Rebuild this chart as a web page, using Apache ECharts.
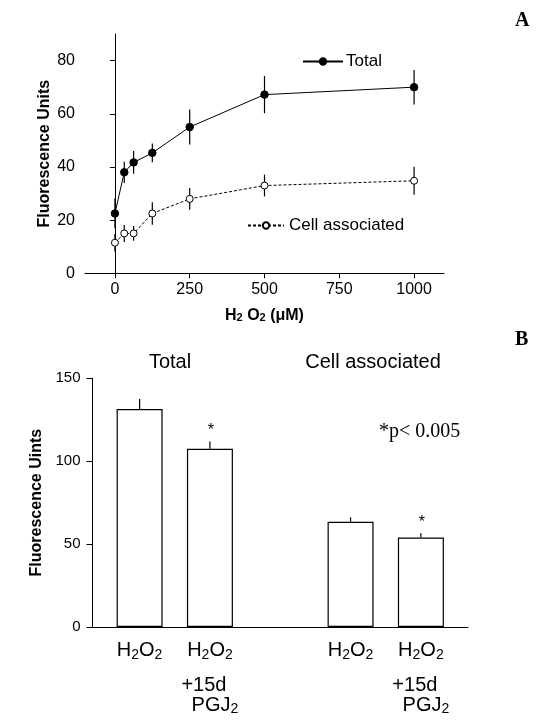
<!DOCTYPE html>
<html><head><meta charset="utf-8">
<script src="https://cdn.jsdelivr.net/npm/echarts@6/dist/echarts.min.js"></script>
<style>html,body{margin:0;padding:0;background:#fff}#c{width:540px;height:720px}</style>
</head><body><div id="c"></div>
<script>
// ---------- Panel A data ----------
const concA = [0, 31.25, 62.5, 125, 250, 500, 1000];
const totalA = [22.5, 38, 41.7, 45.3, 55, 67.2, 70];
const totalErrA = [5.6, 4, 4.3, 3.5, 6.6, 7, 6.5];
const cellA = [11.5, 15, 15, 22.5, 28, 33, 34.8];
const cellErrA = [3.3, 3.2, 2.8, 4.2, 4.1, 4.1, 5.3];
const xTicksA = [0, 250, 500, 750, 1000];
const yTicksA = [0, 20, 40, 60, 80];
const seriesNamesA = ['Total', 'Cell associated'];

// ---------- Panel B data ----------
const posB = [1, 2, 4, 5];
const labelsB = ['H2O2', 'H2O2 +15d PGJ2', 'H2O2', 'H2O2 +15d PGJ2'];
const valuesB = [131.5, 107.5, 63.5, 54];
const errB = [6, 4.4, 2.6, 2.6];
const sigB = [0, 1, 0, 1];
const yTicksB = [0, 50, 100, 150];
const groupTitlesB = ['Total', 'Cell associated'];
const pNote = '*p< 0.005';

const SANS = '"Liberation Sans", Arial, Helvetica, sans-serif';
const SERIF = '"Liberation Serif", "Times New Roman", serif';

function richLabel(label) {
  const parts = label.split(' ');
  const line1 = '{m|H}{s|2}{m|O}{s|2}';
  if (parts.length === 1) return line1;
  return line1 + '\n{g|}{p|' + parts[1] + '}\n{q|' + parts[2].replace('2', '') + '}{t|2}';
}

const chart = echarts.init(document.getElementById('c'), null, {renderer: 'canvas'});

const errA = (vals, errs) => concA.map((x, i) => [x, vals[i], errs[i]]);

const option = {
  backgroundColor: '#fff',
  animation: false,
  textStyle: {fontFamily: SANS, color: '#000'},
  grid: [
    {left: 85, right: 96, top: 34, bottom: 446.7, outerBoundsMode: 'none'},
    {left: 92.5, right: 72, top: 378.3, bottom: 93, outerBoundsMode: 'none'}
  ],
  legend: [
    {data: [seriesNamesA[0]], left: 302, top: 53, padding: 0, itemWidth: 40, itemHeight: 8,
     textStyle: {fontSize: 17, fontFamily: SANS, color: '#000', padding: [0, 0, 0, -2]}, selectedMode: false},
    {data: [seriesNamesA[1]], left: 247, top: 217, padding: 0, itemWidth: 36, itemHeight: 8,
     textStyle: {fontSize: 17, fontFamily: SANS, color: '#000', padding: [0, 0, 0, 0]}, selectedMode: false}
  ],
  xAxis: [
    {gridIndex: 0, type: 'value', min: -100, max: 1100,
     name: 'H{s|2} O{s|2} (μM)', nameLocation: 'middle', nameGap: 34, nameMoveOverlap: false,
     nameTextStyle: {fontSize: 16, fontWeight: 'bold', fontFamily: SANS, color: '#000',
       rich: {s: {fontSize: 11, fontWeight: 'bold', verticalAlign: 'bottom', lineHeight: 12, fontFamily: SANS}}},
     axisLine: {show: true, lineStyle: {color: '#000', width: 1}},
     axisTick: {show: true, length: 5, inside: false, customValues: xTicksA, lineStyle: {color: '#000'}},
     axisLabel: {show: true, customValues: xTicksA, margin: 8, fontSize: 16, color: '#000', fontFamily: SANS,
       formatter: v => String(v)},
     splitLine: {show: false}},
    {gridIndex: 1, type: 'value', min: 0.33, max: 5.67,
     axisLine: {show: true, lineStyle: {color: '#000', width: 1}},
     axisTick: {show: false},
     axisLabel: {show: true, customValues: posB, margin: 11, color: '#000', fontFamily: SANS, fontSize: 20,
       formatter: v => { const i = posB.indexOf(v); return i < 0 ? '' : richLabel(labelsB[i]); },
       rich: {
         m: {fontSize: 20, lineHeight: 24, fontFamily: SANS},
         s: {fontSize: 14, lineHeight: 14, verticalAlign: 'bottom', fontFamily: SANS},
         g: {height: 33, width: 0, lineHeight: 33},
         p: {fontSize: 20, lineHeight: 20, verticalAlign: 'bottom', padding: [0, 12, 0, 0], fontFamily: SANS},
         q: {fontSize: 20, lineHeight: 21, padding: [0, 0, 0, 10], fontFamily: SANS},
         t: {fontSize: 14, lineHeight: 14, verticalAlign: 'bottom', fontFamily: SANS}
       }},
     splitLine: {show: false}}
  ],
  yAxis: [
    {gridIndex: 0, type: 'value', min: 0, max: 90,
     name: 'Fluorescence Units', nameLocation: 'middle', nameGap: 32, nameMoveOverlap: false,
     nameTextStyle: {fontSize: 16, fontWeight: 'bold', fontFamily: SANS, color: '#000'},
     axisLine: {show: true, lineStyle: {color: '#000', width: 1}},
     axisTick: {show: true, length: 5, inside: false, customValues: yTicksA, lineStyle: {color: '#000'}},
     axisLabel: {show: true, customValues: yTicksA, margin: 10, fontSize: 16, color: '#000', fontFamily: SANS},
     splitLine: {show: false}},
    {gridIndex: 1, type: 'value', min: 0, max: 150,
     name: 'Fluorescence Uints', nameLocation: 'middle', nameGap: 48, nameMoveOverlap: false,
     nameTextStyle: {fontSize: 16, fontWeight: 'bold', fontFamily: SANS, color: '#000'},
     axisLine: {show: true, lineStyle: {color: '#000', width: 1}},
     axisTick: {show: true, length: 6, inside: false, customValues: yTicksB, lineStyle: {color: '#000'}},
     axisLabel: {show: true, customValues: yTicksB, margin: 12, fontSize: 15, color: '#000', fontFamily: SANS},
     splitLine: {show: false}}
  ],
  series: [
    {type: 'custom', xAxisIndex: 0, yAxisIndex: 0, z: 1, silent: true,
     data: errA(totalA, totalErrA).concat(errA(cellA, cellErrA)),
     renderItem: (params, api) => {
       const x = api.value(0), y = api.value(1), e = api.value(2);
       const a = api.coord([x, y + e]), b = api.coord([x, y - e]);
       return {type: 'line', shape: {x1: a[0], y1: a[1], x2: b[0], y2: b[1]}, style: {stroke: '#000', lineWidth: 1.2}};
     }},
    {name: seriesNamesA[0], type: 'line', xAxisIndex: 0, yAxisIndex: 0, z: 3,
     data: concA.map((x, i) => [x, totalA[i]]),
     symbol: 'circle', symbolSize: 7.5,
     itemStyle: {color: '#000', borderColor: '#000', borderWidth: 1},
     lineStyle: {color: '#000', width: 1, type: 'solid'}},
    {name: seriesNamesA[1], type: 'line', xAxisIndex: 0, yAxisIndex: 0, z: 3,
     data: concA.map((x, i) => [x, cellA[i]]),
     symbol: 'circle', symbolSize: 7,
     itemStyle: {color: '#fff', borderColor: '#000', borderWidth: 1},
     lineStyle: {color: '#000', width: 1, type: [3, 2]}},
    {name: 'B', type: 'bar', xAxisIndex: 1, yAxisIndex: 1, barWidth: 46,
     data: posB.map((x, i) => [x, valuesB[i]]),
     itemStyle: {color: '#fff', borderColor: '#000', borderWidth: 1.2}},
    {type: 'custom', xAxisIndex: 1, yAxisIndex: 1, z: 3, silent: true,
     data: posB.map((x, i) => [x, valuesB[i], errB[i], sigB[i]]),
     renderItem: (params, api) => {
       const x = api.value(0), v = api.value(1), e = api.value(2), s = api.value(3);
       const a = api.coord([x, v]), b = api.coord([x, v + e]);
       const children = [{type: 'line', shape: {x1: a[0], y1: a[1], x2: b[0], y2: b[1]}, style: {stroke: '#000', lineWidth: 1.2}}];
       if (s) children.push({type: 'text', x: b[0] + 1, y: b[1] - 11,
         style: {text: '*', fontSize: 16, fontFamily: SANS, fill: '#000', align: 'center', verticalAlign: 'middle'}});
       return {type: 'group', children};
     }}
  ],
  graphic: [
    {type: 'text', x: 515, y: 21, style: {text: 'A', fontSize: 20, fontWeight: 'bold', fontFamily: SERIF, fill: '#000', align: 'left', verticalAlign: 'middle'}},
    {type: 'text', x: 515, y: 340, style: {text: 'B', fontSize: 20, fontWeight: 'bold', fontFamily: SERIF, fill: '#000', align: 'left', verticalAlign: 'middle'}},
    {type: 'text', x: 170, y: 362, style: {text: groupTitlesB[0], fontSize: 20, fontFamily: SANS, fill: '#000', align: 'center', verticalAlign: 'middle'}},
    {type: 'text', x: 373, y: 362, style: {text: groupTitlesB[1], fontSize: 20, fontFamily: SANS, fill: '#000', align: 'center', verticalAlign: 'middle'}},
    {type: 'text', x: 379, y: 432, style: {text: pNote, fontSize: 20, fontFamily: SERIF, fill: '#000', align: 'left', verticalAlign: 'middle'}}
  ]
};
chart.setOption(option);
</script>
</body></html>
